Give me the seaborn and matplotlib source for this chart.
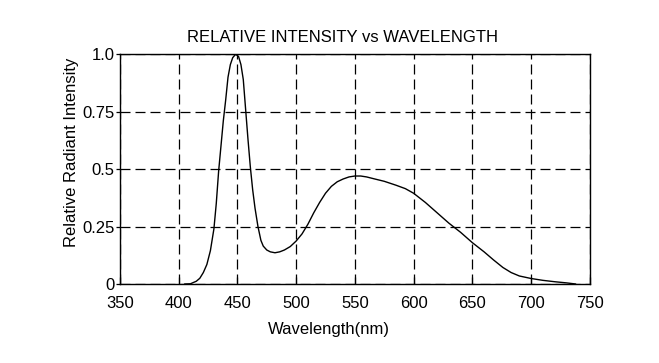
import seaborn as sns
import matplotlib.pyplot as plt
import pandas as pd

# spectrum
wavelength = [405, 410, 415, 418, 421, 424, 427, 430, 432, 434, 436, 438, 440,
              442, 444, 446, 448.5, 451, 453, 455, 457, 459, 461, 463, 465,
              467.5, 470, 472, 475, 478, 482, 486, 490, 495, 500, 505, 510,
              515, 520, 525, 530, 535, 540, 545, 550, 555, 560, 567, 575, 585,
              593, 600, 610, 620, 630, 640, 650, 660, 668, 676, 683, 690, 700,
              710, 720, 730, 738]
intensity = [0.0, 0.001, 0.012, 0.025, 0.05, 0.085, 0.145, 0.24, 0.35, 0.49,
             0.6, 0.71, 0.8, 0.9, 0.955, 0.985, 1.0, 0.99, 0.955, 0.89, 0.76,
             0.63, 0.51, 0.41, 0.33, 0.25, 0.19, 0.165, 0.148, 0.14, 0.136,
             0.14, 0.148, 0.163, 0.187, 0.218, 0.26, 0.31, 0.355, 0.395, 0.425,
             0.445, 0.457, 0.466, 0.47, 0.47, 0.466, 0.457, 0.447, 0.43, 0.415,
             0.395, 0.355, 0.31, 0.265, 0.225, 0.18, 0.14, 0.105, 0.072, 0.05,
             0.035, 0.024, 0.016, 0.01, 0.005, 0.0]
xticks = [350, 400, 450, 500, 550, 600, 650, 700, 750]
yticks = [0, 0.25, 0.5, 0.75, 1.0]
ylabels = ["0", "0.25", "0.5", "0.75", "1.0"]

df = pd.DataFrame({"wl": wavelength, "ri": intensity})

sns.set_style("ticks")
plt.rcParams['font.family'] = ['Liberation Sans', 'DejaVu Sans']
plt.rcParams['text.color'] = 'black'
plt.rcParams['axes.labelcolor'] = 'black'

fig = plt.figure(figsize=(6.59, 3.63), dpi=100)
ax = fig.add_axes([0.182, 0.2176, 0.713, 0.633])

sns.lineplot(data=df, x="wl", y="ri", ax=ax, color="black", linewidth=1.0)

ax.set_xlim(350, 750)
ax.set_ylim(0, 1.0)
ax.set_xticks(xticks)
ax.set_yticks(yticks)
ax.set_yticklabels(ylabels)
ax.grid(True, color="black", linestyle=(0, (8, 4)), linewidth=0.9)
ax.tick_params(axis="x", direction="in", length=5, width=0.9, pad=8.5,
               labelsize=12, colors="black")
ax.tick_params(axis="y", direction="out", length=3, width=0.9, pad=1,
               labelsize=12, colors="black")
for s in ax.spines.values():
    s.set_color("black")
    s.set_linewidth(1.0)

# the original's titles sit a bit left of / above centre
ax.set_title("RELATIVE INTENSITY vs WAVELENGTH", fontsize=12, pad=9, x=0.473)
ax.set_xlabel("Wavelength(nm)", fontsize=12, labelpad=8)
ax.xaxis.label.set_x(0.445)
ax.set_ylabel("Relative Radiant Intensity", fontsize=12, labelpad=2)
ax.yaxis.label.set_y(0.574)

fig.savefig("out.png", dpi=100)
